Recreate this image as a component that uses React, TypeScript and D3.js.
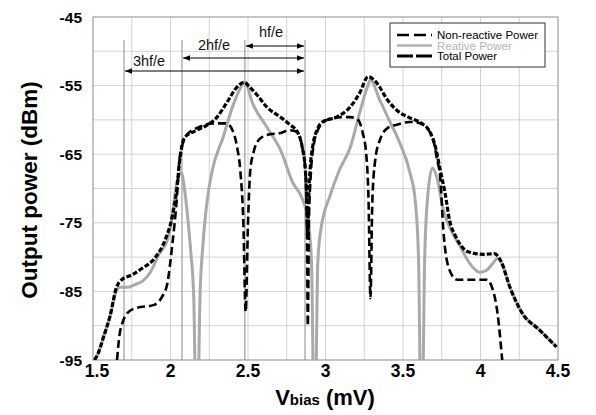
import React from "react";
import * as d3 from "d3";

const xTicks = [1.5, 2, 2.5, 3, 3.5, 4, 4.5];
const yTicks = [-45, -55, -65, -75, -85, -95];
const xGrid = [1.5, 1.75, 2, 2.25, 2.5, 2.75, 3, 3.25, 3.5, 3.75, 4, 4.25, 4.5];
const yGrid = [-45, -50, -55, -60, -65, -70, -75, -80, -85, -90, -95];

// photon step markers (hf/e spacing)
const markerX = [1.70, 2.074, 2.48, 2.868];
const arrowLabels = ["3hf/e", "2hf/e", "hf/e"];
const arrowStarts = [1.70, 2.074, 2.48];
const arrowEnd = 2.868;

const totalX = [1.51, 1.53, 1.57, 1.61, 1.65, 1.685, 1.75, 1.82, 1.9, 1.965, 2.01, 2.04, 2.06, 2.09, 2.17, 2.255, 2.3, 2.36, 2.43, 2.475, 2.51, 2.56, 2.62, 2.71, 2.77, 2.82, 2.85, 2.87, 2.878, 2.885, 2.892, 2.9, 2.92, 2.945, 2.98, 3.07, 3.16, 3.22, 3.275, 3.33, 3.4, 3.46, 3.545, 3.62, 3.675, 3.71, 3.74, 3.77, 3.8, 3.84, 3.88, 3.93, 4.02, 4.09, 4.13, 4.19, 4.27, 4.38, 4.49];
const totalY = [-95, -94.2, -91.5, -88.6, -84.5, -83.3, -82.6, -81.6, -80.1, -77.5, -74.2, -70.2, -65.8, -62.6, -61.5, -60.5, -59.6, -57.6, -55.2, -54.5, -55.2, -56.4, -58.1, -59.6, -60.7, -61.8, -64, -67.3, -71, -77, -71, -67.5, -63.5, -61.5, -60.3, -59.6, -58.1, -56.1, -53.7, -54.6, -57.1, -58.6, -59.7, -60.5, -61.8, -64, -67.3, -70.5, -74.6, -77, -78.5, -79.3, -79.6, -79.5, -80.5, -84.4, -88.2, -90.6, -93.1];

const nonReactiveX = [1.655, 1.67, 1.69, 1.72, 1.78, 1.89, 1.945, 1.98, 2.01, 2.04, 2.06, 2.105, 2.19, 2.27, 2.36, 2.4, 2.43, 2.45, 2.47, 2.485, 2.5, 2.515, 2.535, 2.56, 2.62, 2.71, 2.77, 2.82, 2.85, 2.87, 2.88, 2.886, 2.893, 2.905, 2.925, 2.95, 2.98, 3.01, 3.1, 3.16, 3.21, 3.24, 3.262, 3.278, 3.29, 3.302, 3.32, 3.35, 3.4, 3.46, 3.545, 3.61, 3.69, 3.72, 3.74, 3.76, 3.8, 3.85, 3.93, 4.04, 4.08, 4.11, 4.14];
const nonReactiveY = [-95, -91.5, -89.6, -88.2, -87.4, -87, -85.8, -83.8, -78.5, -71.7, -65.4, -62.2, -61, -60.5, -60.5, -61.5, -64, -67.3, -75, -88, -75, -67.3, -64.8, -63.2, -62.2, -61.9, -61.5, -61.8, -64, -67.3, -75, -90, -75, -68, -63.5, -61.5, -60.5, -60, -59.6, -59.6, -60, -61.9, -64.8, -72, -86, -72, -66, -63, -61.2, -60.7, -60.3, -60.5, -62.5, -65.8, -68.3, -76, -81.9, -83.3, -83.3, -83.3, -84.8, -88.2, -95];

const reactiveX = [1.51, 1.53, 1.57, 1.61, 1.65, 1.67, 1.72, 1.77, 1.82, 1.87, 1.93, 1.98, 2.01, 2.03, 2.05, 2.07, 2.09, 2.11, 2.13, 2.15, 2.17, 2.19, 2.21, 2.235, 2.27, 2.34, 2.4, 2.46, 2.48, 2.53, 2.62, 2.71, 2.79, 2.85, 2.89, 2.91, 2.93, 2.95, 2.97, 3.03, 3.09, 3.16, 3.22, 3.27, 3.29, 3.35, 3.41, 3.48, 3.545, 3.58, 3.6, 3.62, 3.64, 3.66, 3.69, 3.72, 3.76, 3.8, 3.87, 3.93, 3.995, 4.04, 4.08, 4.11, 4.14, 4.19, 4.27, 4.38, 4.49];
const reactiveY = [-95, -94.2, -91.5, -88.6, -85, -84.4, -84.4, -84, -83.5, -82.2, -79.4, -77.5, -74.2, -70.7, -68.2, -67.7, -70, -74, -79, -86, -110, -86, -78, -72, -67.3, -62.5, -58.1, -55, -54.5, -57.6, -61, -64.4, -69.2, -71.5, -75, -81, -110, -81, -76, -71, -67.3, -64, -59, -55.2, -54.2, -57.1, -60, -63.4, -67.7, -72, -80, -110, -80, -71, -67, -68.5, -73.1, -75.6, -78.5, -80.9, -82.2, -81.9, -80.9, -80.2, -81, -84.4, -88.2, -90.6, -93.1];

const legendLabels = ["Non-reactive Power", "Reative Power", "Total Power"];

const W = 596;
const H = 415;
const L = 93, R = 558, T = 17, B = 360;
const FONT = "'Liberation Sans', Arial, sans-serif";

export default function App() {
  const x = d3.scaleLinear().domain([1.5, 4.5]).range([L, R]);
  const y = d3.scaleLinear().domain([-95, -45]).range([B, T]);
  const mk = (xs: number[], ys: number[]) =>
    d3.line<number>().x((_, i) => x(xs[i])).y((_, i) => y(ys[i])).curve(d3.curveMonotoneX)(xs) || "";

  const totalPath = mk(totalX, totalY);
  const nonPath = mk(nonReactiveX, nonReactiveY);
  const reactPath = mk(reactiveX, reactiveY);

  const arrowYs = [71, 58, 46];
  const labelPos = [
    { lx: 149, ly: 66 },
    { lx: 214, ly: 50 },
    { lx: 271, ly: 37 },
  ];

  return (
    <svg width={W} height={H} style={{ position: "absolute", left: 0, top: 0, background: "#fff" }} fontFamily={FONT}>
      <defs>
        <clipPath id="plot">
          <rect x={L} y={T} width={R - L} height={B - T} />
        </clipPath>
        <marker id="ah" viewBox="0 0 10 10" refX="10" refY="5" markerWidth="9" markerHeight="7" orient="auto-start-reverse" markerUnits="userSpaceOnUse">
          <path d="M0,1 L10,5 L0,9 z" fill="#000" />
        </marker>
      </defs>
      <rect x={0} y={0} width={W} height={H} fill="#fff" />
      {/* grid */}
      {xGrid.map((v) => (
        <line key={"gx" + v} x1={x(v)} x2={x(v)} y1={T} y2={B} stroke="#d2d2d2" strokeWidth={1} />
      ))}
      {yGrid.map((v) => (
        <line key={"gy" + v} x1={L} x2={R} y1={y(v)} y2={y(v)} stroke="#d2d2d2" strokeWidth={1} />
      ))}
      {/* frame */}
      <rect x={L} y={T} width={R - L} height={B - T} fill="none" stroke="#a0a0a0" strokeWidth={1} />
      {/* markers */}
      {markerX.map((v) => (
        <line key={"m" + v} x1={x(v)} x2={x(v)} y1={40} y2={B} stroke="#8a8a8a" strokeWidth={1} />
      ))}
      {/* arrows */}
      {arrowStarts.map((s, i) => (
        <g key={"a" + i}>
          <line x1={x(s) + 1} x2={x(arrowEnd) - 1} y1={arrowYs[i]} y2={arrowYs[i]} stroke="#000" strokeWidth={1.2} markerStart="url(#ah)" markerEnd="url(#ah)" />
          <text x={labelPos[i].lx} y={labelPos[i].ly} fontSize={14.5} textAnchor="middle" fill="#111">{arrowLabels[i]}</text>
        </g>
      ))}
      {/* curves */}
      <g clipPath="url(#plot)" fill="none">
        <path d={reactPath} stroke="#a9a9a9" strokeWidth={3} />
        <path d={nonPath} stroke="#000" strokeWidth={2.6} strokeDasharray="8,4" />
        <path d={totalPath} stroke="#000" strokeWidth={3.2} strokeDasharray="5,2" />
      </g>
      {/* legend */}
      <rect x={390} y={23} width={155} height={44} fill="#fff" stroke="#333" strokeWidth={1} />
      <line x1={397} x2={432} y1={35} y2={35} stroke="#000" strokeWidth={2.6} strokeDasharray="12,5" />
      <line x1={397} x2={432} y1={45.5} y2={45.5} stroke="#b0b0b0" strokeWidth={2.6} />
      <line x1={397} x2={432} y1={56} y2={56} stroke="#000" strokeWidth={2.8} strokeDasharray="16,3" />
      {legendLabels.map((t, i) => (
        <text key={t} x={437} y={39 + i * 10.5} fontSize={11.5} fill={i === 1 ? "#b3b3b3" : "#000"}>{t}</text>
      ))}
      {/* y ticks */}
      {yTicks.map((v) => (
        <text key={"yt" + v} x={82} y={y(v) + 5.5} fontSize={15.5} fontWeight="bold" textAnchor="end" fill="#000">{v}</text>
      ))}
      {/* x ticks */}
      {xTicks.map((v) => (
        <text key={"xt" + v} x={x(v) + (v === 1.5 ? 4 : 0)} y={376.5} fontSize={17.5} fontWeight="bold" textAnchor="middle" fill="#000">{v}</text>
      ))}
      {/* axis titles */}
      <text transform="translate(37,190) rotate(-90)" fontSize={22.5} fontWeight="bold" textAnchor="middle" fill="#000">Output power (dBm)</text>
      <text x={325} y={405} fontSize={22} fontWeight="bold" textAnchor="middle" fill="#000">
        V<tspan fontSize={15}>bias</tspan> (mV)
      </text>
    </svg>
  );
}
